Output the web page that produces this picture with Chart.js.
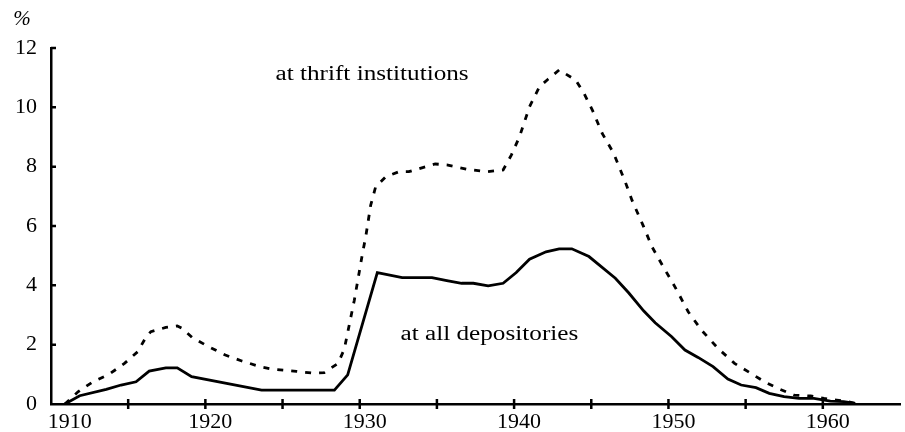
<!DOCTYPE html>
<html>
<head>
<meta charset="utf-8">
<script src="https://cdn.jsdelivr.net/npm/chart.js@4.4.1/dist/chart.umd.min.js"></script>
<style>
    html, body { margin: 0; padding: 0; background: #fff; }
    #wrap { width: 905px; height: 432px; }
</style>
</head>
<body>
<div id="wrap"><canvas id="chart"></canvas></div>
<script>
const allYears = [1910.9, 1911.86, 1913.58, 1914.54, 1915.51, 1916.36, 1917.44, 1918.18, 1919.11, 1923.64,
    1928.36, 1929.22, 1931.14, 1932.75, 1934.68, 1935.64, 1936.6, 1937.36, 1938.32, 1939.29,
    1940.14, 1941.0, 1942.07, 1942.92, 1943.74, 1944.85, 1946.56, 1947.42, 1948.39, 1949.14,
    1950.21, 1951.07, 1951.92, 1952.89, 1953.85, 1954.71, 1955.67, 1956.53, 1957.49, 1958.46,
    1959.42, 1960.49, 1961.35, 1962.1];
const allValues = [0, 0.28, 0.49, 0.64, 0.75, 1.11, 1.22, 1.22, 0.92, 0.47,
    0.47, 0.98, 4.43, 4.26, 4.26, 4.16, 4.07, 4.07, 3.98, 4.07,
    4.43, 4.88, 5.13, 5.23, 5.23, 4.97, 4.24, 3.75, 3.14, 2.74,
    2.27, 1.82, 1.57, 1.26, 0.84, 0.64, 0.55, 0.36, 0.25, 0.19,
    0.19, 0.1, 0.08, 0.02];

const thriftYears = [1910.9, 1911.75, 1912.72, 1913.79, 1914.76, 1915.61, 1916.15, 1916.47, 1917.44, 1918.18,
    1918.5, 1919.15, 1920.22, 1921.29, 1922.36, 1923.6, 1924.3, 1925.9, 1927.0, 1927.7,
    1928.6, 1929.0, 1929.65, 1930.18, 1930.39, 1930.71, 1931.03, 1931.68, 1932.54, 1933.18,
    1934.89, 1935.64, 1936.93, 1938.21, 1939.29, 1939.82, 1940.35, 1941.0, 1941.64, 1942.18,
    1942.92, 1943.99, 1944.53, 1945.07, 1945.71, 1946.45, 1947.2, 1947.63, 1948.39, 1948.93,
    1949.78, 1950.42, 1951.28, 1952.14, 1953.2, 1954.28, 1955.35, 1956.21, 1957.07, 1958.14,
    1959.21, 1960.08, 1960.9, 1961.6, 1962.1];
const thriftValues = [0, 0.41, 0.75, 1.01, 1.37, 1.76, 2.25, 2.44, 2.58, 2.63,
    2.55, 2.24, 1.93, 1.65, 1.45, 1.25, 1.18, 1.1, 1.04, 1.06,
    1.37, 1.85, 3.5, 5.08, 5.64, 6.7, 7.32, 7.66, 7.83, 7.83,
    8.09, 8.06, 7.91, 7.83, 7.89, 8.39, 9.01, 10.02, 10.69, 10.94,
    11.26, 10.92, 10.47, 9.91, 9.12, 8.45, 7.49, 6.88, 5.98, 5.3,
    4.52, 3.95, 3.11, 2.49, 1.88, 1.37, 1.03, 0.75, 0.53, 0.3,
    0.27, 0.19, 0.13, 0.08, 0.02];

const labelTexts = ['at thrift institutions', 'at all depositories'];
const labelYears = [1930.8, 1938.4];
const labelValues = [10.92, 2.16];

const serif = '"Liberation Serif", "Times New Roman", serif';

const toPoints = (xs, ys) => xs.map((x, i) => ({ x: x, y: ys[i] }));

const extrasPlugin = {
    id: 'extras',
    afterDraw(chart) {
        const ctx = chart.ctx;
        const xs = chart.scales.x;
        const ys = chart.scales.y;
        const area = chart.chartArea;
        ctx.save();
        ctx.strokeStyle = '#000';
        ctx.lineWidth = 2.5;
        ctx.beginPath();
        xs.ticks.forEach(t => {
            if (t.value <= xs.min || t.value >= xs.max) return;
            const px = xs.getPixelForValue(t.value);
            ctx.moveTo(px, area.bottom - 5);
            ctx.lineTo(px, area.bottom + 5);
        });
        ys.ticks.forEach(t => {
            if (t.value <= ys.min) return;
            const py = ys.getPixelForValue(t.value);
            ctx.moveTo(area.left, py);
            ctx.lineTo(area.left + 5, py);
        });
        ctx.stroke();

        // the original text is a little wider than Times, so stretch it
        ctx.fillStyle = '#000';
        ctx.font = '20px ' + serif;
        ctx.textAlign = 'center';
        ctx.textBaseline = 'alphabetic';
        labelTexts.forEach((txt, i) => {
            ctx.save();
            ctx.translate(xs.getPixelForValue(labelYears[i]), ys.getPixelForValue(labelValues[i]));
            ctx.scale(1.26, 1);
            ctx.fillText(txt, 0, 0);
            ctx.restore();
        });

        ctx.font = 'italic 21px ' + serif;
        ctx.fillText('%', 22, 25);
        ctx.restore();
    }
};

const ctx = document.getElementById('chart').getContext('2d');
const myChart = new Chart(ctx, {
    type: 'line',
    data: {
        datasets: [{
            label: 'at thrift institutions',
            data: toPoints(thriftYears, thriftValues),
            borderColor: '#000',
            borderWidth: 2.8,
            borderDash: [6, 8],
            pointRadius: 0,
            tension: 0,
            fill: false
        }, {
            label: 'at all depositories',
            data: toPoints(allYears, allValues),
            borderColor: '#000',
            borderWidth: 2.8,
            pointRadius: 0,
            tension: 0,
            fill: false
        }]
    },
    options: {
        responsive: true,
        maintainAspectRatio: false,
        animation: false,
        layout: { padding: { top: 48, left: 0, right: 0, bottom: 0 } },
        plugins: {
            legend: { display: false },
            tooltip: { enabled: false }
        },
        scales: {
            x: {
                type: 'linear',
                min: 1910,
                max: 1965,
                afterFit(scale) { scale.height = 28; },
                grid: { display: false, drawTicks: false },
                border: { display: true, color: '#000', width: 2.5 },
                ticks: {
                    stepSize: 5,
                    autoSkip: false,
                    maxRotation: 0,
                    padding: 5,
                    labelOffset: 5,
                    color: '#000',
                    font: { family: serif, size: 22 },
                    callback: v => {
                        if (v % 10 !== 0 || v >= 1965) return '';
                        return v === 1910 ? '     1910' : String(v);
                    }
                }
            },
            y: {
                min: 0,
                max: 12,
                afterFit(scale) { scale.width = 51; },
                grid: { display: false, drawTicks: false },
                border: { display: true, color: '#000', width: 2.5 },
                ticks: {
                    stepSize: 2,
                    padding: 14,
                    color: '#000',
                    font: { family: serif, size: 22 }
                }
            }
        }
    },
    plugins: [extrasPlugin]
});
</script>
</body>
</html>
